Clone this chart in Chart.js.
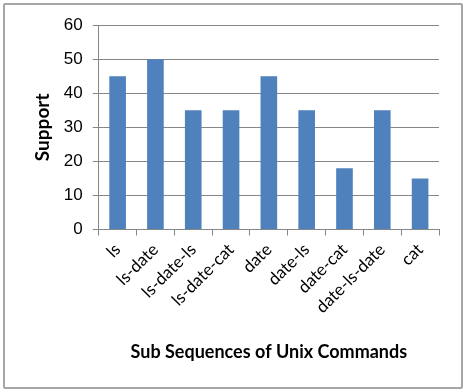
<!DOCTYPE html>
<html>
<head>
<meta charset="utf-8">
<script src="https://cdn.jsdelivr.net/npm/chart.js@4"></script>
<style>
  body { margin: 0; background: #fff; }
  #box {
    position: absolute; left: 3px; top: 3px;
    width: 456px; height: 382px;
    border: 2px solid #a6a6a6; border-radius: 2px;
    background: #fff;
  }
</style>
</head>
<body>
<div id="box"><canvas id="myChart"></canvas></div>
<script>
let labels = ["ls", "ls-date", "ls-date-ls", "ls-date-cat", "date", "date-ls", "date-cat", "date-ls-date", "cat"];
let support = [45, 50, 35, 35, 45, 35, 18, 35, 15];
let yTicks = [0, 10, 20, 30, 40, 50, 60];

const data = {
    labels: labels,
    datasets: [{
        data: support,
        backgroundColor: "#4f81bd",
        categoryPercentage: 1.0,
        barPercentage: 0.44
    }]
};

const config = {
    type: "bar",
    data: data,
    options: {
        responsive: true,
        maintainAspectRatio: false,
        animation: false,
        layout: { padding: { left: 22, right: 22, top: 16, bottom: 20 } },
        plugins: {
            legend: { display: false },
            tooltip: { enabled: false }
        },
        scales: {
            x: {
                offset: true,
                grid: { offset: true, drawOnChartArea: false, drawTicks: true, tickLength: 6, color: "#868686" },
                border: { color: "#868686" },
                ticks: {
                    color: "#000", minRotation: 45, maxRotation: 45, padding: 4,
                    font: { family: "Lato", size: 17 }
                },
                title: {
                    display: true, text: "Sub Sequences of Unix Commands", color: "#000",
                    font: { family: "Lato", size: 18, weight: "bold" },
                    padding: { top: 20 }
                }
            },
            y: {
                min: 0, max: 60,
                afterBuildTicks: function (axis) { axis.ticks = yTicks.map(v => ({ value: v })); },
                grid: { color: "#868686", tickLength: 6 },
                border: { color: "#868686" },
                ticks: {
                    color: "#000", padding: 10,
                    font: { family: "Liberation Sans", size: 17 }
                },
                title: {
                    display: true, text: "Support", color: "#000",
                    font: { family: "Lato", size: 19, weight: "bold" },
                    padding: { bottom: 0 }
                }
            }
        }
    }
};

new Chart(document.getElementById("myChart"), config);
</script>
</body>
</html>
